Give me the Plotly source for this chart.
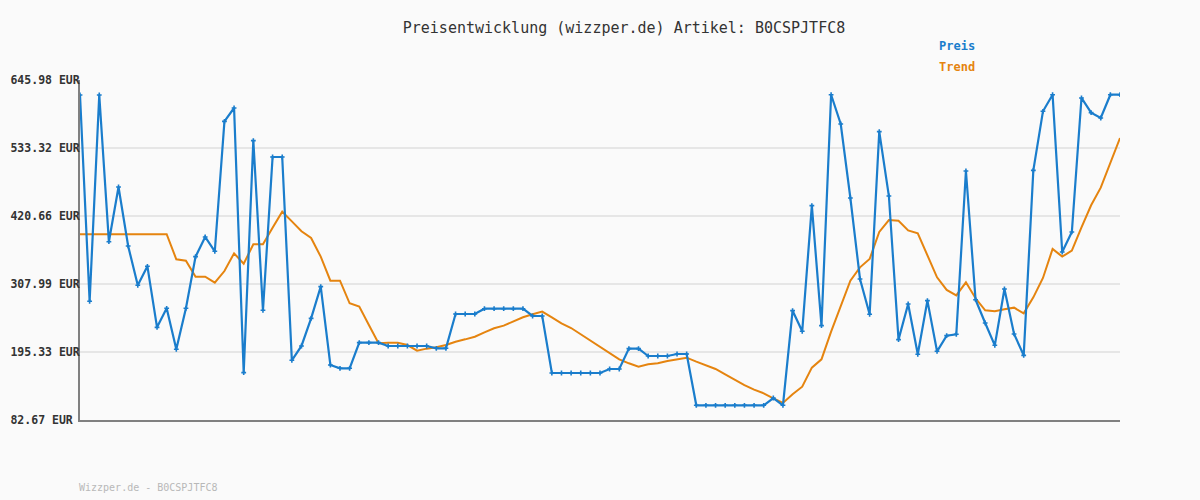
import plotly.graph_objects as go

preis = [
    621.1, 279.3, 621.1, 378.1, 468.7, 371.0, 305.8, 337.3, 236.2, 267.7,
    199.8, 267.7, 353.3, 385.9, 362.2, 577.5, 599.6, 161.1, 545.5, 264.4,
    518.4, 518.4, 181.6, 205.3, 251.1, 303.6, 173.8, 168.3, 168.3, 210.8,
    210.8, 210.8, 205.3, 205.3, 205.3, 205.3, 205.3, 201.5, 201.5, 258.3,
    258.3, 258.3, 267.1, 267.1, 267.1, 267.1, 267.1, 255.0, 255.0, 160.5,
    160.5, 160.5, 160.5, 160.5, 160.5, 167.2, 167.2, 200.9, 200.9, 188.7,
    188.7, 188.7, 192.0, 192.0, 107.0, 107.0, 107.0, 107.0, 107.0, 107.0,
    107.0, 107.0, 119.1, 107.0, 263.8, 229.6, 437.8, 239.0, 621.6, 573.1,
    450.5, 316.3, 257.8, 560.4, 453.8, 215.8, 274.9, 191.5, 280.4, 196.5,
    222.4, 224.7, 495.2, 282.0, 243.4, 206.4, 299.7, 225.2, 189.8, 496.3,
    594.1, 621.6, 361.0, 394.2, 616.2, 591.9, 583.0, 621.6, 621.6,
]

trend = [
    390.4, 390.4, 390.4, 390.4, 390.4, 390.4, 390.4, 390.4, 390.4, 390.4,
    349.0, 346.7, 320.1, 320.1, 310.2, 329.5, 358.8, 341.6, 373.7, 373.7,
    401.3, 427.8, 411.8, 395.3, 384.2, 353.3, 313.5, 313.5, 276.0, 270.5,
    240.1, 209.7, 210.8, 210.8, 206.9, 197.5, 200.9, 203.1, 206.9, 212.4,
    216.3, 220.7, 227.9, 234.6, 239.0, 246.2, 252.8, 257.8, 262.2, 252.8,
    242.9, 235.1, 224.7, 213.6, 203.1, 193.2, 183.2, 176.6, 171.1, 174.9,
    176.6, 180.4, 183.7, 185.9, 179.3, 173.8, 167.2, 158.3, 148.9, 140.6,
    132.9, 126.9, 118.6, 111.0, 125.2, 137.9, 169.4, 183.2, 229.0, 272.1,
    313.5, 335.6, 349.4, 394.2, 414.0, 412.9, 396.9, 392.0, 356.1, 319.1,
    298.1, 289.2, 310.8, 284.3, 264.4, 262.8, 266.1, 268.8, 259.4, 285.9,
    318.0, 366.0, 353.3, 363.2, 401.9, 438.4, 467.6, 507.9, 549.9,
]

y_ticks = [82.67, 195.33, 307.99, 420.66, 533.32, 645.98]
y_tick_labels = ["82.67 EUR\u00a0", "195.33 EUR", "307.99 EUR", "420.66 EUR", "533.32 EUR", "645.98 EUR"]

title_text = "Preisentwicklung (wizzper.de) Artikel: B0CSPJTFC8"
footer_text = "Wizzper.de - B0CSPJTFC8"

BLUE = "#1a7dcc"
ORANGE = "#e5840f"
MONO = "DejaVu Sans Mono"
BG = "#fafafa"

x = list(range(len(preis)))

fig = go.Figure()
fig.add_trace(go.Scatter(
    x=x, y=trend, mode="lines", name="Trend",
    line=dict(color=ORANGE, width=2), hoverinfo="skip",
))
fig.add_trace(go.Scatter(
    x=x, y=preis, mode="lines+markers", name="Preis",
    line=dict(color=BLUE, width=2.2),
    marker=dict(symbol="cross", size=4, color=BLUE, line=dict(width=0)),
))

L, R, T, B = 80, 80, 80, 80
W, H = 1200, 500
pw, ph = W - L - R, H - T - B


def px_ann(text, px, py, color, size):
    return dict(text=text, showarrow=False, xref="paper", yref="paper",
                x=(px - L) / pw, y=(H - B - py) / ph,
                xanchor="left", yanchor="middle",
                font=dict(family=MONO, size=size, color=color))


fig.update_layout(
    width=W, height=H,
    paper_bgcolor=BG, plot_bgcolor=BG,
    margin=dict(l=L, r=R, t=T, b=B, autoexpand=False),
    showlegend=False,
    title=dict(text=title_text, x=624 / W, xanchor="center",
               y=1 - 28 / H, yanchor="middle",
               font=dict(family=MONO, size=15, color="#333333")),
    xaxis=dict(range=[0, len(preis) - 1], showgrid=False, zeroline=False,
               showticklabels=False, showline=True, linecolor="#808080",
               linewidth=2, ticks="", automargin=False),
    yaxis=dict(range=[y_ticks[0], y_ticks[-1]], tickvals=y_ticks, ticktext=y_tick_labels,
               showgrid=True, gridcolor="#e6e6e6", gridwidth=2, zeroline=False,
               showline=True, linecolor="#808080", linewidth=2, ticks="",
               automargin=False, ticklabelstandoff=-4,
               tickfont=dict(family=MONO, size=11.5, color="#333333", weight="bold")),
    annotations=[
        px_ann("<b>Preis</b>", 937, 46, BLUE, 12),
        px_ann("<b>Trend</b>", 937, 67, ORANGE, 12),
        px_ann(footer_text, 77, 487, "#b8b8b8", 10),
    ],
)

fig.write_html(
    "out.html",
    config={"displayModeBar": False},
    post_script="document.body.style.margin='0';document.body.style.background='" + BG + "';",
)
